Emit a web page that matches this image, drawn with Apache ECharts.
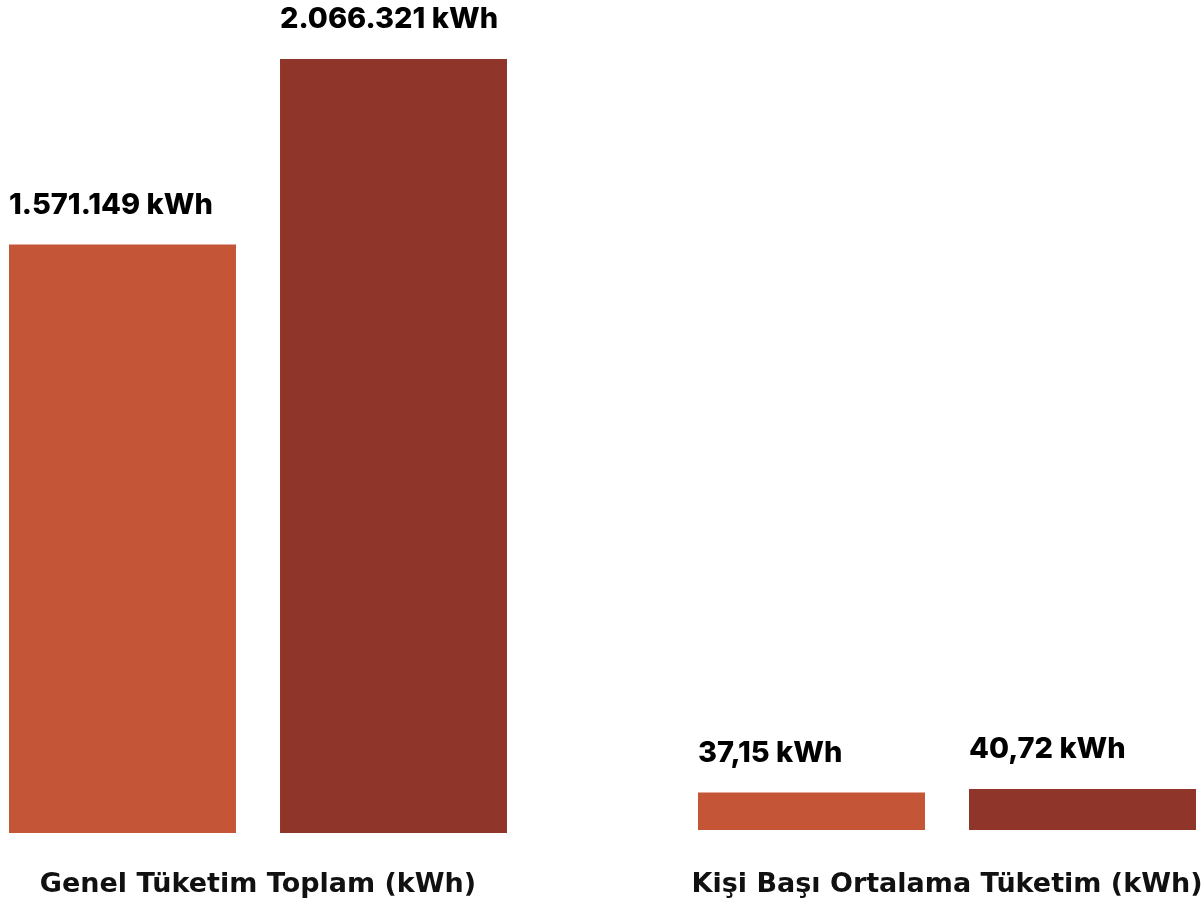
<!DOCTYPE html>
<html>
<head>
<meta charset="utf-8">
<script src="https://cdn.jsdelivr.net/npm/echarts@6/dist/echarts.min.js"></script>
<style>
html,body{margin:0;padding:0;background:#fff;}
#chart{width:1204px;height:907px;}
</style>
</head>
<body>
<div id="chart"></div>
<script>
// Data
const groupNames = ['Genel Tüketim Toplam (kWh)', 'Kişi Başı Ortalama Tüketim (kWh)'];
const totalValues = [1571149, 2066321];      // [series A, series B]
const perCapitaValues = [37.15, 40.72];      // [series A, series B]
const unit = 'kWh';

const colorA = '#C55537';
const colorB = '#8F352A';
const VALUE_FONT = 'Inter';
const CAT_FONT = 'DejaVu Sans';

function fmtTotal(v) {
  return String(Math.round(v)).replace(/\B(?=(\d{3})+(?!\d))/g, '.') + ' ' + unit;
}
function fmtAvg(v) {
  return v.toFixed(2).replace('.', ',') + ' ' + unit;
}

const BW = 227;
const labelStyle = (fmt) => ({
  show: true,
  position: 'top',
  align: 'left',
  offset: [-BW / 2, 0],
  distance: 25,
  fontFamily: VALUE_FONT,
  fontWeight: 800,
  fontSize: 29,
  color: '#000',
  formatter: p => fmt(p.value)
});
const catLabel = (margin) => ({
  margin: margin, fontFamily: CAT_FONT, fontWeight: 'bold', fontSize: 27, color: '#111'
});

const chart = echarts.init(document.getElementById('chart'));
chart.setOption({
  animation: false,
  backgroundColor: '#fff',
  grid: [
    { left: 9, width: 498, top: 59, bottom: 74, containLabel: false, outerBoundsMode: 'none' },
    { left: 698, width: 498, top: 789, bottom: 77, containLabel: false, outerBoundsMode: 'none' }
  ],
  xAxis: [
    { type: 'category', gridIndex: 0, data: [groupNames[0]],
      axisLine: { show: false }, axisTick: { show: false }, axisLabel: catLabel(38) },
    { type: 'category', gridIndex: 1, data: [groupNames[1]],
      axisLine: { show: false }, axisTick: { show: false }, axisLabel: catLabel(41) }
  ],
  yAxis: [
    { type: 'value', gridIndex: 0, min: 0, max: v => v.max, show: false, splitLine: { show: false } },
    { type: 'value', gridIndex: 1, min: 0, max: v => v.max, show: false, splitLine: { show: false } }
  ],
  series: [
    { type: 'bar', xAxisIndex: 0, yAxisIndex: 0, data: [totalValues[0]], barWidth: BW, barGap: '19.4%',
      itemStyle: { color: colorA }, label: labelStyle(fmtTotal) },
    { type: 'bar', xAxisIndex: 0, yAxisIndex: 0, data: [totalValues[1]], barWidth: BW, barGap: '19.4%',
      itemStyle: { color: colorB }, label: labelStyle(fmtTotal) },
    { type: 'bar', xAxisIndex: 1, yAxisIndex: 1, data: [perCapitaValues[0]], barWidth: BW, barGap: '19.4%',
      itemStyle: { color: colorA }, label: labelStyle(fmtAvg) },
    { type: 'bar', xAxisIndex: 1, yAxisIndex: 1, data: [perCapitaValues[1]], barWidth: BW, barGap: '19.4%',
      itemStyle: { color: colorB }, label: labelStyle(fmtAvg) }
  ]
});
</script>
</body>
</html>
